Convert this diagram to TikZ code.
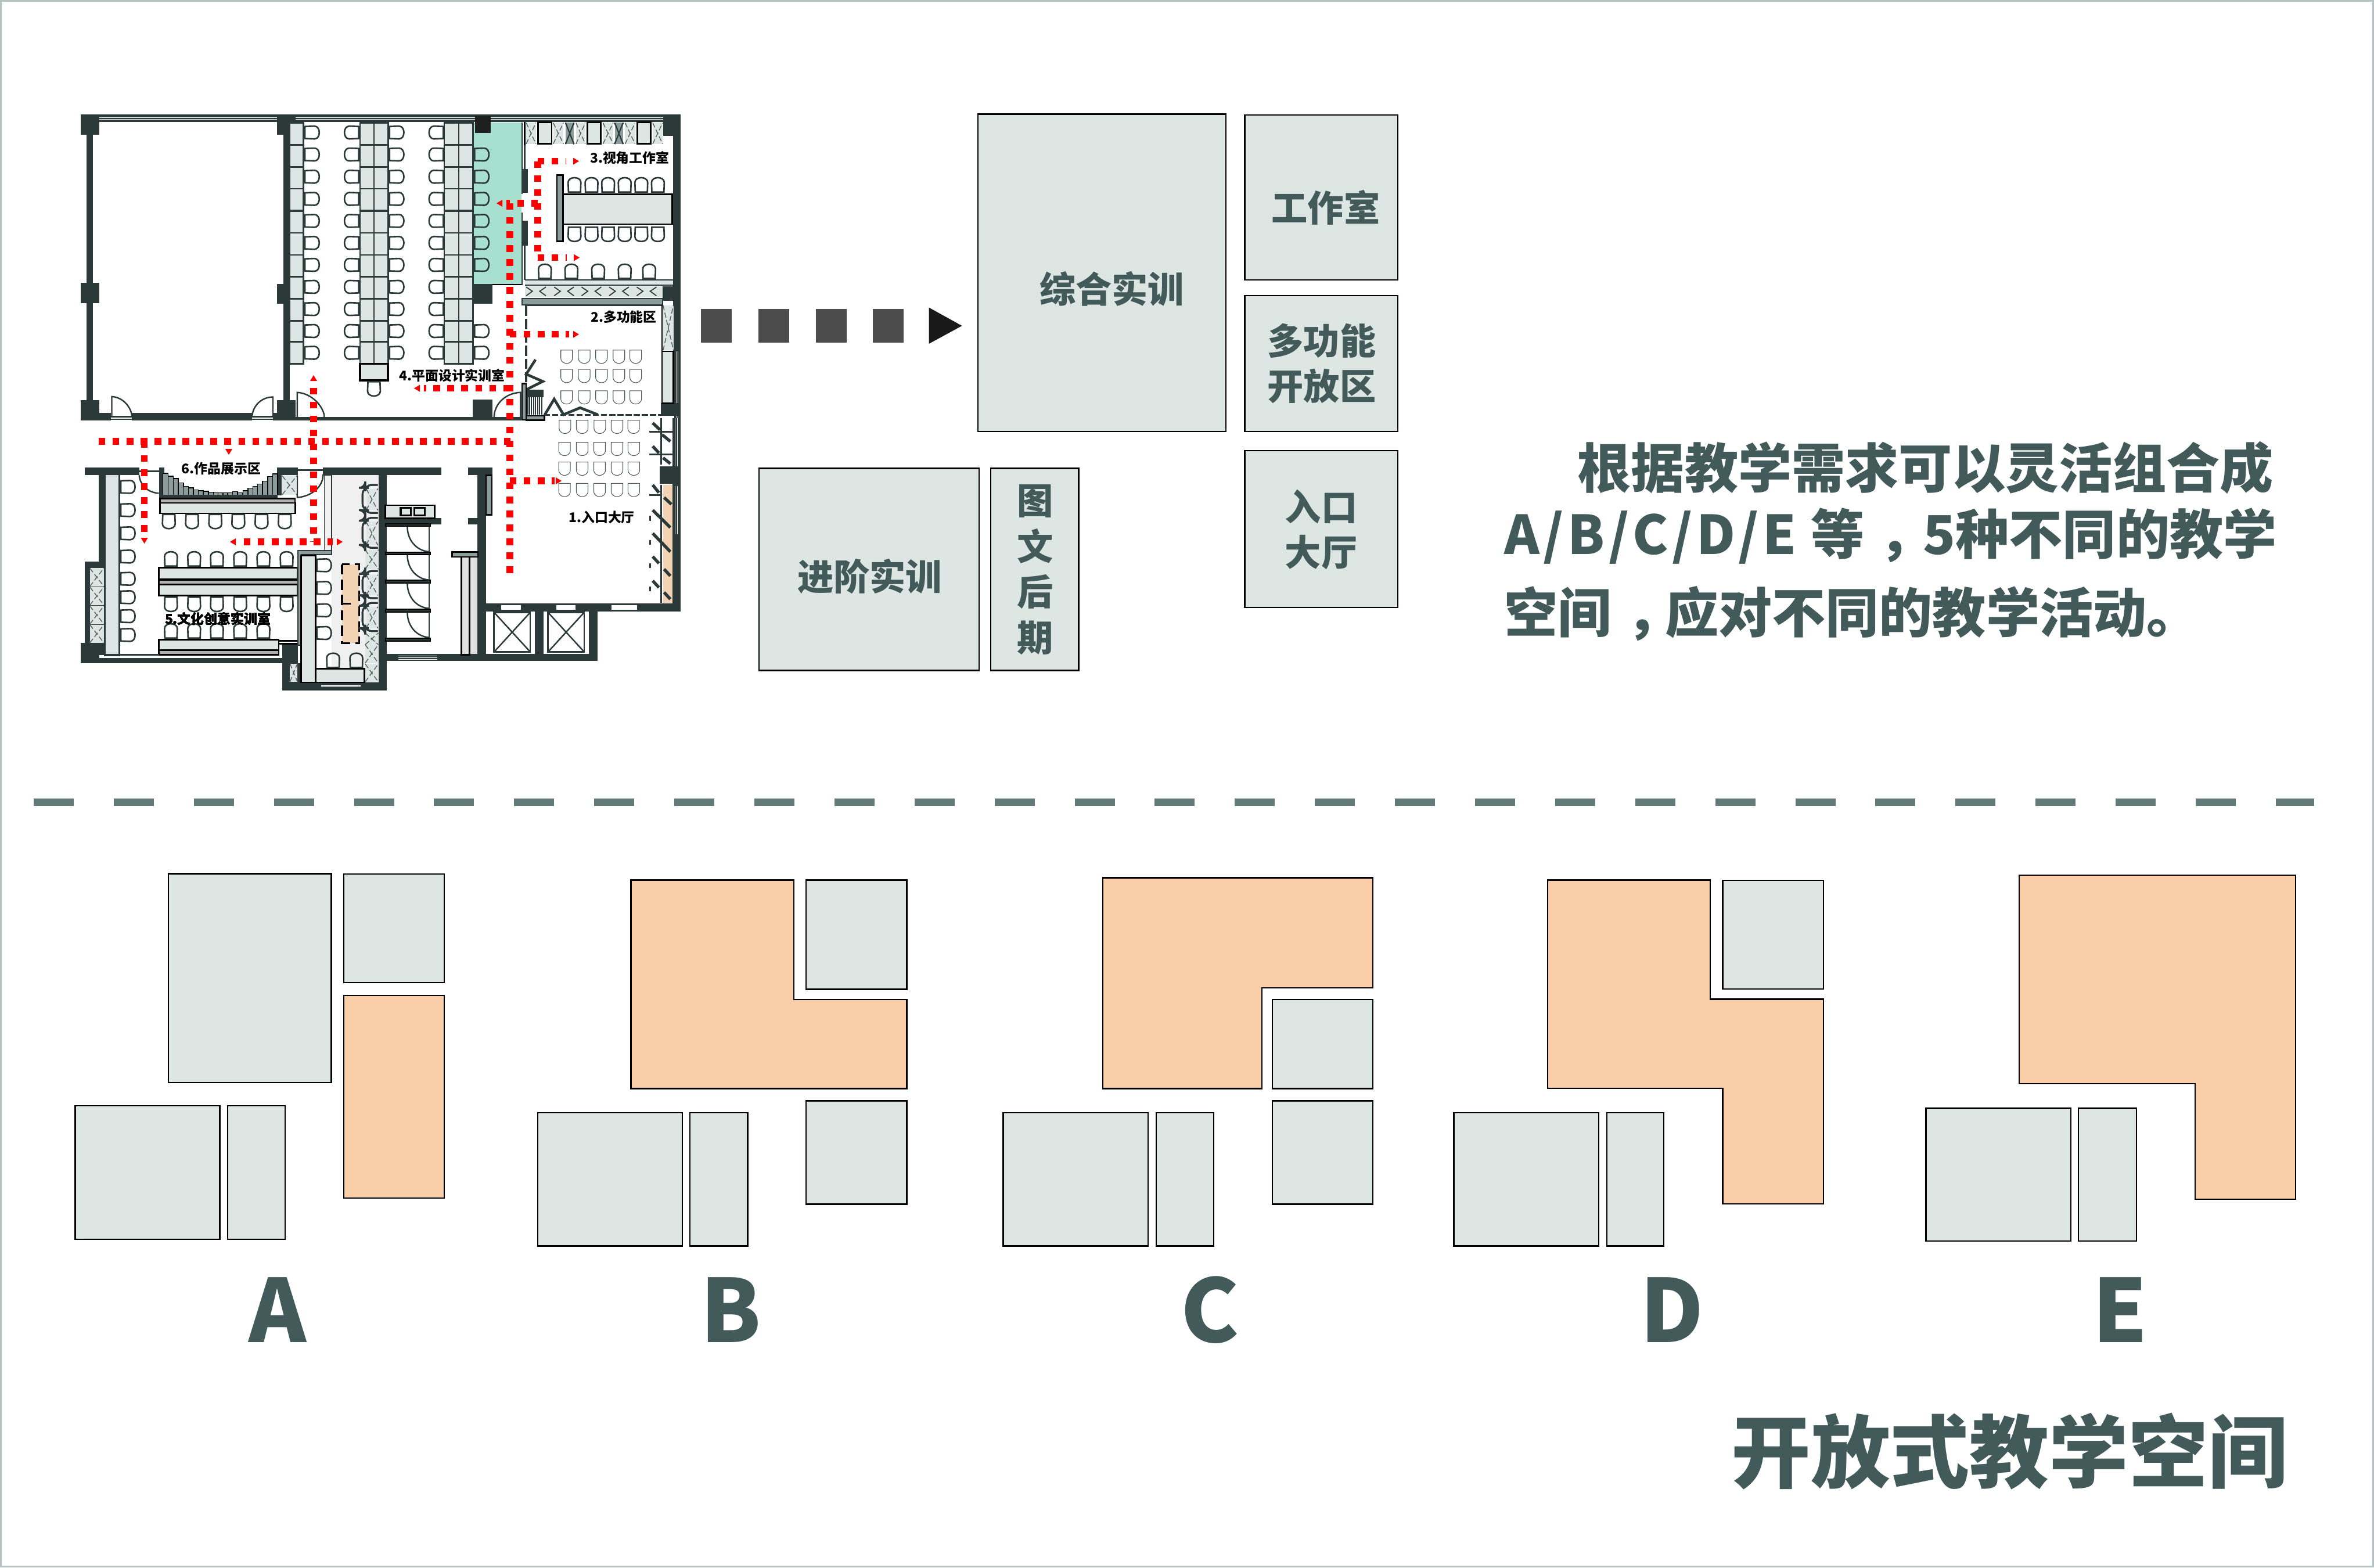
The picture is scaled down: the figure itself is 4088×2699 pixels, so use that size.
\documentclass[tikz,border=0pt]{standalone}
\usepackage{fontspec}
\setmainfont{Noto Sans CJK SC}
\usetikzlibrary{positioning,calc}
\definecolor{wallcol}{HTML}{2B3A39}
\definecolor{deskcol}{HTML}{DEE6E4}
\definecolor{hotcol}{HTML}{F9CEA8}
\definecolor{inkcol}{HTML}{425B5A}
\definecolor{mintcol}{HTML}{A8E0D0}
\definecolor{steelcol}{HTML}{8C9C9A}
\definecolor{sandcol}{HTML}{F2D4B4}
\definecolor{framecol}{HTML}{B5C4C2}
\definecolor{sepcol}{HTML}{627A78}
\newcommand{\xbox}[4]{\fill[deskcol] (#1,#2) rectangle (#3,#4);\draw[lockerline] (#1,#2) -- (#3,#4) (#1,#4) -- (#3,#2);}
\newcommand{\dbox}[4]{\fill[steelcol] (#1,#2) rectangle (#3,#4);\draw[wallcol, line width=.6pt] (#1,#2) -- (#3,#4) (#1,#4) -- (#3,#2);}

\begin{document}
\begin{tikzpicture}[x=0.01cm, y=-0.01cm,
	block/.style={fill=deskcol, draw=black, line width=.7pt},
	hot/.style={fill=hotcol, draw=black, line width=.7pt},
	wall/.style={fill=wallcol},
	glass/.style={draw=white, line width=.25pt},
	desk/.style={fill=deskcol, draw=wallcol, line width=.8pt},
	desktwo/.style={fill=deskcol, draw=black, line width=.8pt},
	steel/.style={fill=steelcol, draw=black, line width=.7pt},
	band/.style={fill=black!30, draw=black, line width=.7pt},
	door/.style={draw=wallcol, line width=.7pt},
	lockerline/.style={draw=wallcol!80, line width=.4pt, dash pattern=on 2.5pt off 1.2pt},
	chairline/.style={draw=wallcol, line width=.75pt, fill=none},
	seatline/.style={draw=wallcol!85, line width=.3pt},
	route/.style={draw=red, line width=3.24pt, dash pattern=on 3.24pt off 3.6pt},
	movedash/.style={draw=black!70, line width=16.4pt, dash pattern=on 15.1pt off 13pt},
	blocktext/.style={font=\bfseries\fontsize{17.7}{17.7}\selectfont, text=inkcol, inner sep=0pt},
	bodytext/.style={font=\bfseries\fontsize{26.2}{26.2}\selectfont, text=inkcol, inner sep=0pt, anchor=west},
	caseletter/.style={font=\bfseries\fontsize{42.7}{42.7}\selectfont, text=inkcol, inner sep=0pt},
	roomtext/.style={font=\bfseries\fontsize{6.5}{6.5}\selectfont, text=black, inner sep=0pt},
	upleft/.style={shift={(120,180)}, xscale=.35714, yscale=.35714},
	upright/.style={shift={(640,180)}, xscale=.35714, yscale=.35714},
	lowleft/.style={shift={(120,720)}, xscale=.35714, yscale=.33333},
	lowright/.style={shift={(640,720)}, xscale=.35714, yscale=.33333},
	chair/.pic={\draw[chairline] (-12,-10.4) -- (4.3,-11) .. controls (15.4,-11) and (15.4,11) .. (4.3,11) -- (-12,10.4) -- cycle;},
	seat/.pic={\draw[seatline] (-10,-10) -- (10,-10) -- (10,3.6) .. controls (10,10.7) and (3.6,12.9) .. (0,12.9) .. controls (-3.6,12.9) and (-10,10.7) .. (-10,3.6) -- cycle;},
	routetip/.pic={\fill[red] (-5,-6) -- (5,0) -- (-5,6) -- cycle;}]
	\useasboundingbox (0,0) rectangle (4088,2699);
	\fill[white] (0,0) rectangle (4088,2699);
	\draw[framecol, line width=.8pt] (1.5,1.5) rectangle (4086.5,2697.5);

	% Plan, west wing
	\begin{scope}[upleft]
		\fill[wall] (52,48) rectangle (1568,84);
		\draw[glass] (143,62) -- (1000,62) (143,70) -- (1000,70) (1088,62) -- (1568,62) (1088,70) -- (1568,70);
		\fill[wall] (80,145) rectangle (113,1425);
		\fill[wall] (1030,145) rectangle (1060,1425);
		\foreach \x/\y/\u/\v in {52/48/143/145, 1000/48/1088/145, 52/860/143/957, 1000/864/1088/960, 52/1425/143/1522, 1000/1425/1088/1522}
			\fill[wall] (\x,\y) rectangle (\u,\v);
		\fill[wall] (143,1487) rectangle (200,1522);
		\fill[wall] (300,1487) rectangle (880,1522);
		\fill[wall] (980,1487) rectangle (1000,1522);
		\fill[wall] (1088,1507) rectangle (1568,1522);
		\draw[door] (200,1505) -- (300,1505) (200,1518) -- (300,1518) (880,1505) -- (980,1505) (880,1518) -- (980,1518);
		\draw[door] (203,1505) -- (203,1408) .. controls (265,1412) and (300,1470) .. (300,1505);
		\draw[door] (980,1505) -- (980,1410) .. controls (920,1410) and (880,1460) .. (880,1505);
		\draw[door] (1097,1510) -- (1097,1388) .. controls (1170,1392) and (1228,1460) .. (1228,1510);
		\foreach \y in {88,194,300,406,513,619,725,831,937,1044}
			\draw[desk] (1060,\y) rectangle (1128,\y+106);
		\draw[desk] (1060,1144) rectangle (1128,1250);
		\foreach \y in {88,194,300,406,513,619,725,831,937,1044}{
			\draw[desk] (1400,\y) rectangle (1467,\y+106);
			\draw[desk] (1467,\y) rectangle (1535,\y+106);}
		\draw[desk] (1400,1144) rectangle (1467,1250);
		\draw[desk] (1467,1144) rectangle (1535,1250);
		\draw[fill=deskcol, draw=black, line width=1pt] (1400,1250) rectangle (1535,1330);
		\foreach \y in {135,241,348,455,561,667,773,879,986,1092,1197}{
			\pic at (1168,\y) {chair};
			\pic[rotate=180] at (1360,\y) {chair};}
		\pic[rotate=-90] at (1467,1370) {chair};
	\end{scope}

	% Plan, east wing
	\begin{scope}[upright]
		\fill[wall] (0,48) rectangle (1490,84);
		\fill[mintcol] (490,88) rectangle (722,866);
		\draw[glass] (0,62) -- (497,62) (0,70) -- (497,70) (575,62) -- (1405,62) (575,70) -- (1405,70);
		\fill[black!88] (497,55) rectangle (575,138);
		\fill[wall] (490,866) rectangle (583,960);
		\draw[black, line width=.7pt] (583,868) -- (722,868);
		\fill[wall] (1405,48) rectangle (1490,150);
		\fill[wall] (1452,150) rectangle (1490,1190);
		\fill[wall] (1460,1190) rectangle (1490,1568);
		\draw[glass] (1470,1190) -- (1470,1440) (1478,1190) -- (1478,1440) (1470,1500) -- (1470,1568) (1478,1500) -- (1478,1568);
		\fill[wall] (1395,1440) rectangle (1490,1500);
		\foreach \y in {88,194,300,406,513,619,725,831,937,1044}{
			\draw[desk] (350,\y) rectangle (420,\y+106);
			\draw[desk] (420,\y) rectangle (488,\y+106);}
		\draw[desk] (350,1144) rectangle (420,1250);
		\draw[desk] (420,1144) rectangle (488,1250);
		\foreach \y in {135,241,348,455,561,667,773,879,986,1092,1197}{
			\pic at (120,\y) {chair};
			\pic[rotate=180] at (312,\y) {chair};}
		\foreach \y in {241,348,455,561,667,773,1092,1197}
			\pic at (530,\y) {chair};
		\draw[wallcol, line width=.7pt] (725,88) -- (725,430) (725,520) -- (725,870) (738,88) -- (738,310) (738,680) -- (738,845);
		\fill[wall] (728,310) rectangle (752,425);
		\fill[wall] (728,560) rectangle (752,680);
		% lockers along the north side
		\foreach \x/\u in {745/792, 875/925, 985/1030, 1115/1165, 1222/1270, 1355/1403}
			\xbox{\x}{88}{\u}{190}
		\foreach \x/\u in {935/975, 1172/1212}
			\dbox{\x}{88}{\u}{190}
		\foreach \x/\u in {803/868, 1040/1105, 1280/1345}
			\draw[desktwo] (\x,85) rectangle (\u,190);
		\fill[white] (1412,150) rectangle (1448,185);
		\draw[black, line width=.7pt] (738,85) -- (738,195);
		% table in room three
		\draw[steel] (893,340) rectangle (922,660);
		\draw[desktwo] (922,432) rectangle (1448,577);
		\foreach \x in {978,1060,1140,1220,1300,1380}{
			\pic[rotate=90] at (\x,388) {chair};
			\pic[rotate=-90] at (\x,625) {chair};}
		\foreach \x in {835,963,1092,1220,1338}
			\pic[rotate=90] at (\x,805) {chair};
		\fill[deskcol] (740,845) rectangle (1452,870);
		\draw[wallcol, line width=.5pt] (740,845) -- (1452,845) (740,870) -- (1452,870);
		\fill[deskcol] (738,875) rectangle (1403,930);
		\foreach \x in {745,880,1012,1145,1278}{
			\draw[wallcol, line width=.5pt] (\x,880) -- (\x+30,900) -- (\x,922);
			\draw[wallcol, line width=.5pt] (\x+95,880) -- (\x+65,900) -- (\x+95,922);}
		\fill[wall] (1403,875) rectangle (1490,945);
		\draw[fill=steelcol, draw=wallcol, line width=.5pt] (725,935) rectangle (1403,965);
		% room two
		\draw[wallcol, line width=.9pt] (750,968) -- (1400,968);
		\draw[wallcol, line width=1.1pt, dash pattern=on 5pt off 1.5pt] (745,970) -- (745,1340);
		\draw[black, line width=.8pt] (1400,965) -- (1400,1190);
		\xbox{1405}{968}{1455}{1185}
		\draw[desktwo] (1400,1190) rectangle (1455,1440);
		\foreach \x in {940,1025,1108,1192,1273}
			\foreach \y in {1212,1305,1408}
				\pic at (\x,\y) {seat};
		\foreach \x in {932,1015,1100,1183,1263}
			\pic at (\x,1550) {seat};
		\draw[wallcol, line width=1.3pt] (790,1230) -- (745,1300) -- (825,1335) -- (745,1375);
		\fill[wall] (745,1375) rectangle (830,1410);
		\foreach \x in {750,760,...,825}
			\draw[wallcol, line width=.6pt] (\x,1410) -- (\x,1495);
		\draw[wallcol, line width=1.3pt] (835,1495) -- (880,1420) -- (925,1495) -- (1005,1462) -- (1090,1495);
		\draw[wallcol, line width=.8pt, dash pattern=on 3pt off 1pt] (830,1497) -- (1395,1497);
		\draw[steel] (725,1345) rectangle (745,1520);
		\draw[steel] (745,1500) rectangle (833,1522);
		\fill[wall] (487,1422) rectangle (583,1508);
		\fill[wall] (0,1507) rectangle (725,1522);
		\draw[door] (718,1510) -- (718,1388) .. controls (650,1390) and (590,1440) .. (590,1510);
		\node[roomtext] (room3) at (1244,257) {3.视角工作室};
		\node[roomtext] (room2) at (1215,1025) {2.多功能区};
		\node[roomtext] (room4) at (388,1307) {4.平面设计实训室};
	\end{scope}

	% Plan, south west wing
	\begin{scope}[lowleft]
		\fill[wall] (72,255) rectangle (335,295);
		\fill[wall] (140,295) rectangle (170,1240);
		\fill[wall] (72,740) rectangle (140,1165);
		\fill[wall] (52,1160) rectangle (140,1265);
		\fill[wall] (140,1240) rectangle (1025,1265);
		\fill[white] (143,1225) rectangle (1005,1240);
		\fill[wall] (1025,1165) rectangle (1100,1265);
		\fill[wall] (1025,1265) rectangle (1115,1408);
		\fill[wall] (1025,1365) rectangle (1530,1408);
		\fill[wall] (1490,255) rectangle (1530,1408);
		\fill[wall] (1222,255) rectangle (1568,295);
		\fill[wall] (430,255) rectangle (455,410);
		\fill[wall] (1000,255) rectangle (1100,295);
		\fill[wall] (1000,295) rectangle (1022,400);
		\draw[glass] (1213,1380) -- (1403,1380) (1213,1388) -- (1403,1388);
		\draw[door] (335,275) -- (430,275) (1100,268) -- (1222,268);
		\draw[door] (335,295) .. controls (340,350) and (380,385) .. (430,388);
		\draw[door] (1097,295) -- (1097,410) .. controls (1160,405) and (1222,360) .. (1222,290);
		\xbox{1025}{298}{1095}{395}
		% display boards
		\foreach \x/\y in {450/285, 475/300, 500/312, 525/335, 548/352, 572/360, 597/370, 620/375, 645/378, 670/383, 693/385, 716/385, 739/385, 762/385, 785/380, 810/385, 835/375, 860/362, 883/352, 905/340, 930/325, 955/302, 978/288}
			\draw[fill=steelcol, draw=black, line width=.4pt] (\x,\y) rectangle (\x+24,397);
		\fill[wall] (430,397) rectangle (1003,412);
		\draw[band] (435,415) rectangle (1087,438);
		\draw[desktwo] (435,438) rectangle (1087,492);
		\foreach \x in {478,590,702,813,925,1037}
			\pic[rotate=-90] at (\x,533) {chair};
		\foreach \y in {775,872,970,1067}
			\xbox{97}{\y}{165}{\y+94}
		\draw[desk] (170,290) rectangle (240,1225);
		\foreach \y in {355,475,595,715,830,925,1023,1120}
			\pic at (280,\y) {chair};
		\draw[desktwo] (430,772) rectangle (1100,833);
		\draw[band] (430,835) rectangle (1100,858);
		\draw[desktwo] (430,860) rectangle (1100,917);
		\foreach \x in {488,600,710,822,934,1046}{
			\pic[rotate=90] at (\x,728) {chair};
			\pic[rotate=-90] at (\x,961) {chair};}
		\foreach \x in {488,600,710,822,934}
			\pic[rotate=90] at (\x,1100) {chair};
		\draw[desktwo] (430,1145) rectangle (1008,1197);
		\draw[band] (430,1198) rectangle (1008,1222);
		\draw[wallcol, line width=.7pt] (170,1222) -- (430,1222);
		\draw[black, line width=.7pt] (1008,1150) -- (1100,1150) (1008,1165) -- (1100,1165);
		% east room
		\fill[black!6] (1262,295) rectangle (1490,1365);
		\draw[fill=black!6, draw=wallcol, line width=.5pt] (1228,295) rectangle (1262,685);
		\draw[fill=steelcol, draw=wallcol, line width=.5pt] (1100,685) -- (1262,685) -- (1262,705) -- (1118,705) -- (1118,1172) -- (1100,1172) -- cycle;
		\draw[desktwo] (1115,710) rectangle (1185,1365);
		\foreach \y in {760,877,993,1110}
			\pic at (1226,\y) {chair};
		\fill[sandcol] (1313,755) rectangle (1395,1162);
		\draw[black, line width=.9pt, dash pattern=on 5pt off 2.5pt] (1313,755) rectangle (1395,1162);
		\draw[black, line width=.9pt] (1313,958) -- (1355,958);
		\foreach \x in {1270,1382}
			\pic[rotate=90] at (\x,1252) {chair};
		\draw[fill=deskcol, draw=black, line width=.8pt] (1185,1295) rectangle (1422,1365);
		\foreach \y/\v in {680/780, 1110/1170, 1170/1265, 1270/1362}
			\xbox{1425}{\y}{1488}{\v}
		\xbox{1062}{1268}{1098}{1362}
		\foreach \y/\v in {345/490, 515/670, 790/930, 955/1100}{
			\xbox{1430}{\y+20}{1485}{\v-15}
			\draw[wallcol, line width=.8pt, rounded corners=3pt] (1485,\y) -- (1425,\y) -- (1425,\y+15) -- (1412,\y+15) -- (1412,\v-15) -- (1425,\v-15) -- (1425,\v) -- (1485,\v);}
		\node[roomtext] (room5) at (714,1037) {5.文化创意实训室};
		\node[roomtext] (room6) at (731,262) {6.作品展示区};
	\end{scope}

	% Plan, south east wing
	\begin{scope}[lowright]
		\fill[wall] (0,255) rectangle (335,295);
		\fill[wall] (465,255) rectangle (583,295);
		\fill[wall] (510,295) rectangle (552,1255);
		\fill[wall] (72,515) rectangle (335,550);
		\fill[wall] (465,515) rectangle (510,550);
		\fill[wall] (72,1217) rectangle (1088,1255);
		\fill[wall] (552,957) rectangle (1490,998);
		\fill[wall] (787,998) rectangle (828,1217);
		\fill[wall] (1048,998) rectangle (1088,1255);
		\fill[wall] (1450,0) rectangle (1490,998);
		\fill[wall] (1390,250) rectangle (1490,340);
		\draw[glass] (130,1228) -- (315,1228) (130,1238) -- (315,1238) (130,1247) -- (315,1247);
		\draw[glass] (1463,0) -- (1463,250) (1473,0) -- (1473,250) (1463,350) -- (1463,600) (1473,350) -- (1473,600);
		\foreach \x/\u in {623/720, 890/983, 1155/1280}
			\fill[white] (\x,965) rectangle (\u,990);
		\draw[steel] (552,295) rectangle (580,500);
		\draw[desktwo] (65,450) rectangle (303,517);
		\foreach \x in {140,205}
			\draw[fill=deskcol, draw=black, line width=.9pt] (\x,463) rectangle (\x+50,503);
		\foreach \y in {545,692,838,988,1138}
			\draw[fill=wallcol, draw=black, line width=.6pt] (68,\y) rectangle (283,\y+13);
		\foreach \y in {560,706,853,1003}{
			\draw[door] (277,\y) -- (277,\y+130);
			\draw[door] (172,\y) .. controls (172,\y+70) and (215,\y+125) .. (277,\y+130);}
		\draw[fill=black!12, draw=none] (472,717) rectangle (510,1217);
		\draw[fill=black!12, draw=black, line width=.8pt] (432,717) rectangle (472,1222);
		\draw[steel] (388,692) rectangle (512,717);
		\foreach \x in {590,850}{
			\draw[door] (\x,1003) rectangle (\x+175,1208);
			\draw[door] (\x,1003) -- (\x+175,1208) (\x,1208) -- (\x+175,1003);}
		\fill[sandcol] (1405,345) rectangle (1450,955);
		\foreach \x in {930,1015,1099,1183,1264}
			\foreach \y in {155,257,367}
				\pic at (\x,\y) {seat};
		% seating by the east side
		\foreach \y/\u in {70/1450, 188/1450, 397/1400}
			\draw[wallcol, line width=1pt] (1338,\y) -- (\u,\y);
		\draw[wallcol, line width=.8pt] (1395,0) -- (1395,240) (1395,345) -- (1395,955);
		\foreach \x/\y/\u/\v in {1355/25/1390/60, 1400/85/1440/120, 1355/145/1385/180, 1405/205/1440/235, 1355/345/1385/385, 1410/410/1445/445, 1355/475/1440/565, 1355/595/1440/690, 1355/715/1385/750, 1410/780/1440/815, 1355/840/1385/875, 1410/900/1440/935}
			\draw[wallcol, line width=1.5pt] (\x,\y) -- (\u,\v);
		\foreach \y in {505,630,750,870}
			\draw[wallcol, line width=1pt] (1342,\y) -- (1342,\y+25);
		\node[roomtext] (room1) at (1109,512) {1.入口大厅};
	\end{scope}

	% Routes
	\draw[route] (878,350) -- (878,997);
	\draw[route] (926,350) -- (872,350);
	\pic[rotate=180] at (860,350) {routetip};
	\draw[route] (926,277.5) -- (926,443.6);
	\draw[route] (926,277.5) -- (975,277.5);
	\pic at (992,277.5) {routetip};
	\draw[route] (926,443.6) -- (976,443.6);
	\pic at (993,443.6) {routetip};
	\draw[route] (878,575.7) -- (980,575.7);
	\pic at (992,575.7) {routetip};
	\draw[route] (878,668.6) -- (730,668.6);
	\pic[rotate=180] at (718,668.6) {routetip};
	\draw[route] (170,760) -- (884,760);
	\pic[rotate=-90] at (394,778) {routetip};
	\draw[route] (248.6,760) -- (248.6,920);
	\pic[rotate=-90] at (248.6,931) {routetip};
	\draw[route] (540,667.5) -- (540,933);
	\pic[rotate=90] at (540,651) {routetip};
	\draw[route] (420,933) -- (573,933);
	\pic at (585,933) {routetip};
	\pic[rotate=180] at (401,933) {routetip};
	\draw[route] (878,828) -- (955,828);
	\pic at (962,828) {routetip};

	% Move arrow
	\coordinate (m0) at (1207,561);
	\coordinate (m1) at (1556,561);
	\draw[movedash] (m0) -- (m1);
	\fill[black!90] (1599.5,529.5) -- (1656.5,561) -- (1599.5,592) -- cycle;

	% Blocks of the key plan
	\draw[block] (1684,196.4) rectangle (2111,743);
	\draw[block] (2143.5,198) rectangle (2407,482);
	\draw[block] (2143.5,509) rectangle (2407,743);
	\draw[block] (2143.5,776) rectangle (2407,1046);
	\draw[block] (1307,806.6) rectangle (1686,1154.5);
	\draw[block] (1706,806.6) rectangle (1857.5,1154.5);
	\node[blocktext] (t1) at (1914.5,497) {综合实训};
	\node[blocktext] (t2) at (2283,357.5) {工作室};
	\node[blocktext] (t3) at (2276,587) {多功能};
	\node[blocktext] (t4) at (2276,665) {开放区};
	\node[blocktext] (t5) at (2275,872) {入口};
	\node[blocktext] (t6) at (2275,951) {大厅};
	\node[blocktext] (t7) at (1497.5,992) {进阶实训};
	\node[blocktext] (t8) at (1783,863) {图};
	\node[blocktext] (t9) at (1783,940) {文};
	\node[blocktext] (t10) at (1783,1019) {后};
	\node[blocktext] (t11) at (1783,1098) {期};

	% Text
	\node[bodytext] (p1) at (2716,805) {根据教学需求可以灵活组合成};
	\node[bodytext] (p2) at (2590,923) {{\addfontfeatures{LetterSpace=7}A/B/C/D/E}\kern 7pt 等\kern .28em ，\kern -.18em 5种不同的教学};
	\node[bodytext] (p3) at (2590,1057) {空间\kern .28em ，\kern -.28em 应对不同的教学活动。};

	% Separator
	\coordinate (s0) at (58,1381.5);
	\coordinate (s1) at (3985,1381.5);
	\draw[sepcol, line width=3.9pt, dash pattern=on 19.63pt off 19.58pt] (s0) -- (s1);

	% Case A
	\draw[block] (290,1504.5) rectangle (570.5,1864);
	\draw[block] (592,1505) rectangle (765,1692);
	\draw[hot] (592,1714) rectangle (765,2063);
	\draw[block] (129.5,1904) rectangle (378.6,2134);
	\draw[block] (392,1904) rectangle (491,2134);
	\node[caseletter] (a) at (478,2256) {A};

	% Case B
	\draw[hot] (1086.6,1515.4) -- (1367,1515.4) -- (1367,1720.7) -- (1561.6,1720.7) -- (1561.6,1874.4) -- (1086.6,1874.4) -- cycle;
	\draw[block] (1388,1515.4) rectangle (1561.6,1703.5);
	\draw[block] (1388,1895.5) rectangle (1561.6,2073.4);
	\draw[block] (926,1916) rectangle (1175,2145.5);
	\draw[block] (1188,1916) rectangle (1287.5,2145.5);
	\node[caseletter] (b) at (1259,2256) {B};

	% Case C
	\draw[hot] (1899,1511.6) -- (2364,1511.6) -- (2364,1701) -- (2173,1701) -- (2173,1874.4) -- (1899,1874.4) -- cycle;
	\draw[block] (2191,1720.7) rectangle (2364,1874.4);
	\draw[block] (2191,1895.5) rectangle (2364,2073.4);
	\draw[block] (1727.7,1916) rectangle (1976.8,2145.5);
	\draw[block] (1991,1916) rectangle (2090,2145.5);
	\node[caseletter] (c) at (2084,2256) {C};

	% Case D
	\draw[hot] (2665,1515.4) -- (2945,1515.4) -- (2945,1720.4) -- (3140,1720.4) -- (3140,2073) -- (2966.6,2073) -- (2966.6,1873.8) -- (2665,1873.8) -- cycle;
	\draw[block] (2966.6,1516) rectangle (3140,1703);
	\draw[block] (2503.6,1916) rectangle (2752.7,2145.5);
	\draw[block] (2767,1916) rectangle (2865,2145.5);
	\node[caseletter] (d) at (2879,2256) {D};

	% Case E
	\draw[hot] (3477,1507) -- (3953,1507) -- (3953,2065) -- (3780,2065) -- (3780,1866) -- (3477,1866) -- cycle;
	\draw[block] (3316.6,1908.5) rectangle (3565.7,2137);
	\draw[block] (3579,1908.5) rectangle (3679,2137);
	\node[caseletter] (e) at (3651,2256) {E};

	% Title
	\node[font=\bfseries\fontsize{38.9}{38.9}\selectfont, text=inkcol, inner sep=0pt] (title) at (3460,2499) {开放式教学空间};
\end{tikzpicture}
\end{document}
